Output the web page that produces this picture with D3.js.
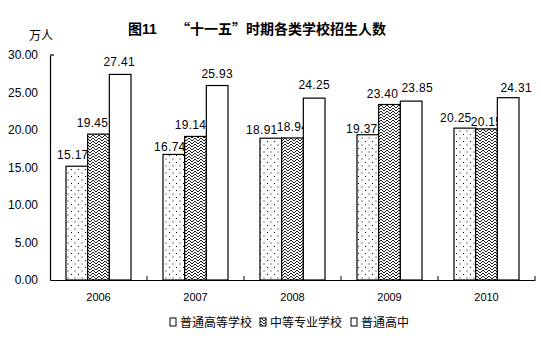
<!DOCTYPE html>
<html><head><meta charset="utf-8">
<script src="https://cdn.jsdelivr.net/npm/d3@7/dist/d3.min.js"></script>
<style>
html,body{margin:0;padding:0;background:#fff;}
svg{display:block;}
text{font-family:"Liberation Sans",Arial,"Noto Sans CJK SC",sans-serif;fill:#000;}
.cjk{font-family:"Liberation Sans","Noto Sans CJK SC",sans-serif;}
.cjkonly{font-family:"Noto Sans CJK SC",sans-serif;}
</style></head>
<body>
<script>
const years = ["2006","2007","2008","2009","2010"];
const seriesNames = ["普通高等学校","中等专业学校","普通高中"];
const higherEd = [15.17,16.74,18.91,19.37,20.25];
const secondaryVoc = [19.45,19.14,18.94,23.40,20.15];
const highSchool = [27.41,25.93,24.25,23.85,24.31];
const yTicks = [0,5,10,15,20,25,30];
const title = "“十一五”时期各类学校招生人数";
const seriesValues = [higherEd, secondaryVoc, highSchool];

// label nudges [dx, baseline gap] per series per year (layout only)
const nudge = [
  [[-4,7],[-4,3],[-9,4],[-6,2],[-9,6]],
  [[-6,7.5],[-5,7.5],[0,7],[-7,7],[0,3]],
  [[-1,8.5],[0,8],[0,9],[6,9.5],[8,6]]
];

const W=541,H=345;
const svg=d3.select("body").append("svg").attr("width",W).attr("height",H);
const defs=svg.append("defs");
const dots=defs.append("pattern").attr("id","dots").attr("patternUnits","userSpaceOnUse").attr("width",7).attr("height",7);
dots.append("rect").attr("width",7).attr("height",7).attr("fill","#fff");
dots.append("rect").attr("x",1).attr("y",1).attr("width",1).attr("height",1).attr("fill","#000");
dots.append("rect").attr("x",4.5).attr("y",4.5).attr("width",1).attr("height",1).attr("fill","#000");
const hatch=defs.append("pattern").attr("id","hatch").attr("patternUnits","userSpaceOnUse").attr("width",6).attr("height",6);
hatch.append("rect").attr("width",6).attr("height",6).attr("fill","#fff");
hatch.append("path").attr("d","M0,3 L3,0 L6,3 M0,6 L3,3 L6,6").attr("stroke","#000").attr("stroke-width",0.9).attr("fill","none");
const fills=["url(#dots)","url(#hatch)","#fff"];

const x0=d3.scaleBand().domain(years).range([50,535]).padding(0);
const x1=d3.scaleBand().domain(d3.range(3)).range([0,x0.bandwidth()]).paddingInner(0).paddingOuter(0.738);
const y=d3.scaleLinear().domain([0,30]).range([280,55]);

// title
svg.append("text").attr("x",128).attr("y",34).attr("class","cjk").style("font-size","14px").style("font-weight","bold").text("图11");
svg.append("text").attr("x",176).attr("y",34).attr("class","cjkonly").style("font-size","14px").style("font-weight","bold").text(title);
svg.append("text").attr("x",29).attr("y",40).attr("class","cjk").style("font-size","12px").text("万人");

// bars
seriesValues.forEach((vals,s)=>{
  svg.append("g").selectAll("rect").data(vals).join("rect")
    .attr("x",(d,i)=>x0(years[i])+x1(s))
    .attr("y",d=>y(d))
    .attr("width",x1.bandwidth())
    .attr("height",d=>y(0)-y(d))
    .attr("fill",fills[s]).attr("stroke","#000").attr("stroke-width",1.2);
  svg.append("g").selectAll("text").data(vals).join("text")
    .attr("x",(d,i)=>x0(years[i])+x1(s)+x1.bandwidth()/2+nudge[s][i][0])
    .attr("y",(d,i)=>y(d)-nudge[s][i][1])
    .attr("text-anchor","middle").style("font-size","12px").style("letter-spacing","0.3px")
    .text(d=>d.toFixed(2));
});

// y axis
const ya=svg.append("g").attr("transform","translate(50,0)")
  .call(d3.axisLeft(y).tickValues(yTicks).tickSize(0).tickPadding(12).tickFormat(d=>d.toFixed(2)));
ya.select(".domain").attr("stroke","#000").attr("stroke-width",1.2);
ya.selectAll("text").style("font-size","12px").attr("font-family",null);
svg.append("line").attr("x1",50).attr("x2",54).attr("y1",y(30)).attr("y2",y(30)).attr("stroke","#000").attr("stroke-width",1.2);

// x axis
const xa=svg.append("g").attr("transform","translate(0,280)")
  .call(d3.axisBottom(x0).tickSize(0).tickPadding(13));
xa.select(".domain").attr("stroke","#000").attr("stroke-width",1.2);
xa.selectAll("text").style("font-size","11px").attr("font-family",null);
svg.append("g").selectAll("line").data(years.map(v=>x0(v)+x0.bandwidth()))
  .join("line").attr("x1",d=>d).attr("x2",d=>d).attr("y1",280).attr("y2",276).attr("stroke","#000").attr("stroke-width",1);

// legend
const legX=[170,260,351];
seriesNames.forEach((n,s)=>{
  svg.append("rect").attr("x",legX[s]).attr("y",318).attr("width",6).attr("height",8)
    .attr("fill",s===1?"url(#hatch)":"#fff").attr("stroke","#000").attr("stroke-width",1);
  svg.append("text").attr("x",legX[s]+10).attr("y",327).attr("class","cjk").style("font-size","12px").text(n);
});
</script>
</body></html>
